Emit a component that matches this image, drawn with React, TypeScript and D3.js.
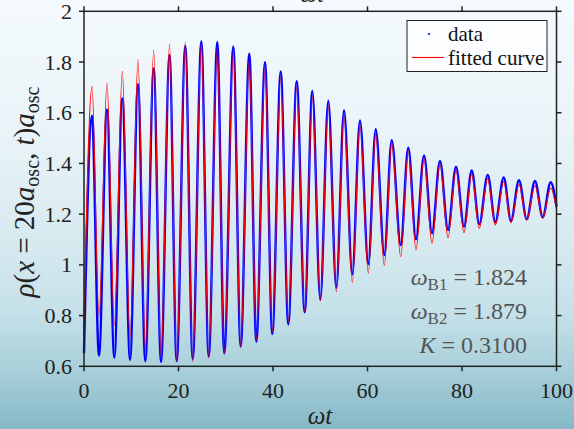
import React from "react";
import * as d3 from "d3";

// times of the extrema (ωt)
const extremaT = [
  0, 1.69, 3.17, 4.87, 6.41, 8.11, 9.74, 11.43, 12.97, 14.75, 16.3, 18.1, 19.62, 21.44,
  23.01, 24.83, 26.39, 28.21, 29.69, 31.6, 33.16, 34.98, 36.47, 38.31, 39.85, 41.63,
  43.24, 45.02, 46.71, 48.32, 50.01, 51.7, 53.4, 55.03, 56.78, 58.41, 60.17, 61.74,
  63.56, 65.12, 67.03, 68.63, 70.26, 71.96, 73.65, 75.34, 77.04, 78.73, 80.42, 82.05,
  83.66, 85.44, 87.05, 88.83, 90.37, 92.06, 93.69, 95.45, 97.08, 98.77, 100,
];
// data (blue points)
const dataRho = [
  0.652, 1.588, 0.642, 1.613, 0.634, 1.657, 0.625, 1.713, 0.62, 1.775, 0.617, 1.828, 0.62,
  1.864, 0.628, 1.882, 0.638, 1.879, 0.651, 1.861, 0.678, 1.833, 0.697, 1.799, 0.727,
  1.763, 0.766, 1.724, 0.813, 1.686, 0.862, 1.647, 0.91, 1.61, 0.963, 1.57, 1.003, 1.535,
  1.039, 1.492, 1.078, 1.462, 1.101, 1.432, 1.125, 1.41, 1.138, 1.387, 1.151, 1.372, 1.16,
  1.355, 1.168, 1.345, 1.173, 1.334, 1.18, 1.331, 1.188, 1.326, 1.23,
];
// fitted curve (red)
const fitRho = [
  0.78, 1.704, 0.796, 1.717, 0.763, 1.763, 0.711, 1.811, 0.671, 1.846, 0.641, 1.87, 0.622,
  1.878, 0.618, 1.876, 0.632, 1.858, 0.651, 1.837, 0.678, 1.808, 0.704, 1.774, 0.737,
  1.738, 0.776, 1.7, 0.815, 1.662, 0.858, 1.624, 0.894, 1.587, 0.931, 1.552, 0.967, 1.516,
  0.997, 1.48, 1.032, 1.45, 1.059, 1.42, 1.085, 1.398, 1.107, 1.375, 1.127, 1.358, 1.144,
  1.34, 1.157, 1.328, 1.166, 1.318, 1.177, 1.312, 1.184, 1.303, 1.22,
];
const xTicks = [0, 20, 40, 60, 80, 100];
const yTicks = [0.6, 0.8, 1, 1.2, 1.4, 1.6, 1.8, 2];
const legendLabels = ["data", "fitted curve"];
const params = [
  { sym: "ω", sub: "B1", val: "1.824" },
  { sym: "ω", sub: "B2", val: "1.879" },
  { sym: "K", sub: "", val: "0.3100" },
];

const W = 574;
const H = 429;
const L = 84, R = 556.5, T = 11.3, B = 366.3;
const serif = "Liberation Serif";

export default function App() {
  const x = d3.scaleLinear().domain([0, 100]).range([L, R]);
  const y = d3.scaleLinear().domain([0.6, 2]).range([B, T]);
  const mk = (vals: number[]) =>
    d3
      .line<number>()
      .x((_, i) => x(extremaT[i]))
      .y((v) => y(v))
      .curve(d3.curveMonotoneX)(vals) as string;
  const tick = 5;
  const axisCol = "#222";
  return (
    <div style={{ position: "fixed", left: 0, top: 0 }}>
      <svg width={W} height={H} style={{ display: "block" }} fontFamily={serif}>
        <defs>
          <linearGradient id="bg" x1="0" y1="0" x2="0" y2="1">
            <stop offset="0" stopColor="#f4fafd" />
            <stop offset="0.3" stopColor="#eaf4f8" />
            <stop offset="0.58" stopColor="#d5e9ef" />
            <stop offset="0.72" stopColor="#c6e1e9" />
            <stop offset="0.86" stopColor="#a9d0da" />
            <stop offset="1" stopColor="#85b8c7" />
          </linearGradient>
        </defs>
        <rect x={0} y={0} width={W} height={H} fill="url(#bg)" />
        {/* cut-off label of the figure above */}
        <text x={312} y={2} fontFamily={serif} fontStyle="italic" fontSize={24} textAnchor="middle" fill="#222">
          ωt
        </text>

        {/* curves */}
        <path d={mk(dataRho)} fill="none" stroke="#0000ff" strokeWidth={2.4} />
        <path d={mk(fitRho)} fill="none" stroke="#ff0000" strokeWidth={1.1} />

        {/* frame */}
        <rect x={L} y={T} width={R - L} height={B - T} fill="none" stroke={axisCol} strokeWidth={1.5} />
        {xTicks.map((t) => (
          <g key={"x" + t}>
            <line x1={x(t)} x2={x(t)} y1={B} y2={B + tick} stroke={axisCol} strokeWidth={1.5} />
            <line x1={x(t)} x2={x(t)} y1={T} y2={T - tick} stroke={axisCol} strokeWidth={1.5} />
            <text x={x(t)} y={398} fontFamily={serif} fontSize={22} textAnchor="middle" fill="#222">
              {t}
            </text>
          </g>
        ))}
        {yTicks.map((t) => (
          <g key={"y" + t}>
            <line x1={L} x2={L - tick} y1={y(t)} y2={y(t)} stroke={axisCol} strokeWidth={1.5} />
            <line x1={R} x2={R + tick} y1={y(t)} y2={y(t)} stroke={axisCol} strokeWidth={1.5} />
            <text x={72} y={y(t) + 7.5} fontFamily={serif} fontSize={22} textAnchor="end" fill="#222">
              {String(t)}
            </text>
          </g>
        ))}

        {/* axis labels */}
        <text x={320} y={424} fontFamily={serif} fontStyle="italic" fontSize={25} textAnchor="middle" fill="#222">
          ωt
        </text>
        <text
          transform="translate(34,192) rotate(-90)"
          fontFamily={serif}
          fontSize={29}
          textAnchor="middle"
          fill="#222"
        >
          <tspan fontStyle="italic">ρ</tspan>
          <tspan>(</tspan>
          <tspan fontStyle="italic">x</tspan>
          <tspan> = 20</tspan>
          <tspan fontStyle="italic">a</tspan>
          <tspan fontSize={20} dy={5}>osc</tspan>
          <tspan dy={-5}>, </tspan>
          <tspan fontStyle="italic">t</tspan>
          <tspan>)</tspan>
          <tspan fontStyle="italic">a</tspan>
          <tspan fontSize={20} dy={5}>osc</tspan>
        </text>

        {/* legend */}
        <rect x={407} y={20.5} width={140} height={51} fill="#fbfdfe" stroke="#222" strokeWidth={1} />
        <circle cx={429} cy={34} r={1.1} fill="#0000ff" />
        <line x1={412} x2={444} y1={57.5} y2={57.5} stroke="#ff0000" strokeWidth={1.1} />
        {legendLabels.map((lab, i) => (
          <text key={lab} x={448} y={41 + i * 24} fontFamily={serif} fontSize={21} fill="#111">
            {lab}
          </text>
        ))}

        {/* parameters */}
        {params.map((p, i) => (
          <text
            key={i}
            x={527}
            y={285 + i * 34}
            fontFamily={serif}
            fontSize={24}
            textAnchor="end"
            fill="#555"
          >
            <tspan fontStyle="italic">{p.sym}</tspan>
            {p.sub ? (
              <tspan fontSize={17} dy={5}>
                {p.sub}
              </tspan>
            ) : null}
            <tspan dy={p.sub ? -5 : 0}>{" = " + p.val}</tspan>
          </text>
        ))}
      </svg>
    </div>
  );
}
